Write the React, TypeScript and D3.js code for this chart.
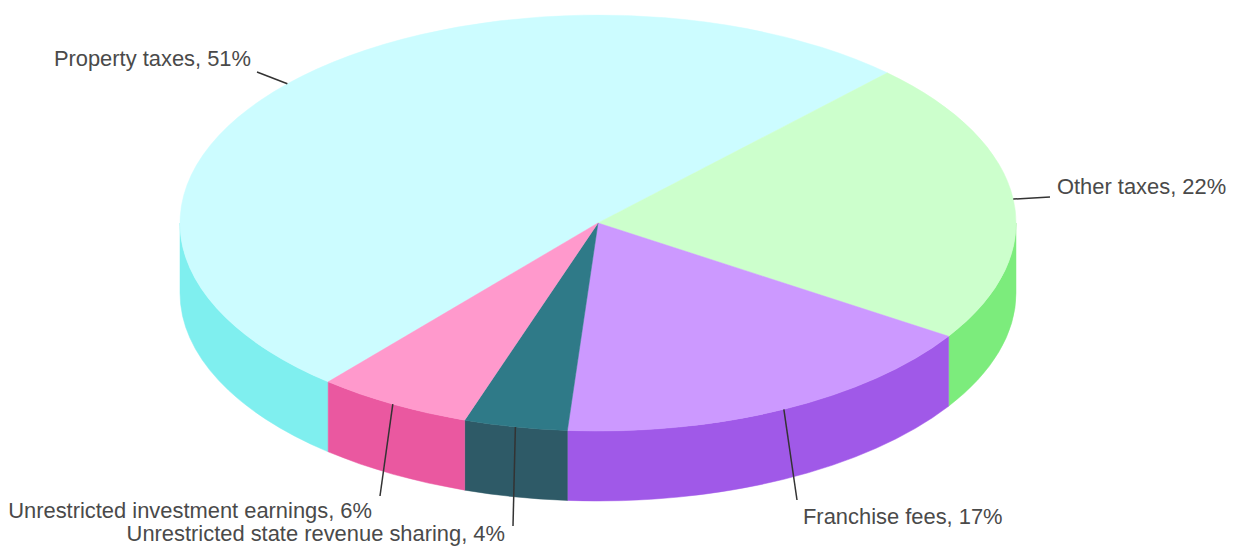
import React from "react";
import * as d3 from "d3";

const categories = [
  "Property taxes",
  "Other taxes",
  "Franchise fees",
  "Unrestricted state revenue sharing",
  "Unrestricted investment earnings",
];
const values = [51, 22, 17, 4, 6];
const topColors = ["#ccfcff", "#ccffcc", "#cc99ff", "#2f7a88", "#ff99cc"];
const sideColors = ["#7fefef", "#7cec7c", "#a059e8", "#2e5a67", "#ea58a0"];

const W = 1240;
const H = 548;
const cx = 598;
const cy = 223;
const rx = 418;
const ry = 208;
const depth = 70;
const startDeg = 220.2;

// label layout: text anchor position (x, baseline y), connector end point
const labelLayout = [
  { tx: 251, ty: 66, anchor: "end", ex: 257, ey: 72 },
  { tx: 1057, ty: 194, anchor: "start", ex: 1050, ey: 197 },
  { tx: 803, ty: 524, anchor: "start", ex: 797, ey: 500 },
  { tx: 505, ty: 541, anchor: "end", ex: 513, ey: 526 },
  { tx: 372, ty: 518, anchor: "end", ex: 380, ey: 496 },
];

function pt(t: number, dy = 0): [number, number] {
  return [cx + rx * Math.cos(t), cy + ry * Math.sin(t) + dy];
}

function topPath(t1: number, t2: number) {
  const [x1, y1] = pt(t1);
  const [x2, y2] = pt(t2);
  const large = t2 - t1 > Math.PI ? 1 : 0;
  return `M${cx},${cy}L${x1},${y1}A${rx},${ry} 0 ${large} 1 ${x2},${y2}Z`;
}

function wallPaths(t1: number, t2: number) {
  const out: string[] = [];
  for (let k = -2; k <= 2; k++) {
    const lo = Math.max(t1, k * 2 * Math.PI);
    const hi = Math.min(t2, k * 2 * Math.PI + Math.PI);
    if (hi > lo) {
      const [ax, ay] = pt(lo);
      const [bx, by] = pt(hi);
      const [bx2, by2] = pt(hi, depth);
      const [ax2, ay2] = pt(lo, depth);
      out.push(
        `M${ax},${ay}A${rx},${ry} 0 0 1 ${bx},${by}L${bx2},${by2}A${rx},${ry} 0 0 0 ${ax2},${ay2}Z`
      );
    }
  }
  return out;
}

export default function App() {
  const total = d3.sum(values);
  const pie = d3
    .pie<number>()
    .sort(null)
    .startAngle((startDeg * Math.PI) / 180)
    .endAngle((startDeg * Math.PI) / 180 + 2 * Math.PI);
  const arcs = pie(values);
  const slices = arcs.map((a, i) => {
    const t1 = a.startAngle - Math.PI / 2;
    const t2 = a.endAngle - Math.PI / 2;
    return { i, t1, t2, mid: (t1 + t2) / 2 };
  });

  return (
    <svg width={W} height={H} style={{ position: "absolute", left: 0, top: 0, background: "#fff" }}>
      <g>
        {slices.map((s) =>
          wallPaths(s.t1, s.t2).map((d, j) => (
            <path key={`w${s.i}-${j}`} d={d} fill={sideColors[s.i]} stroke={sideColors[s.i]} strokeWidth={0.5} />
          ))
        )}
      </g>
      <g>
        {slices.map((s) => (
          <path key={`t${s.i}`} d={topPath(s.t1, s.t2)} fill={topColors[s.i]} stroke={topColors[s.i]} strokeWidth={0.5} />
        ))}
      </g>
      <g>
        {slices.map((s) => {
          const L = labelLayout[s.i];
          const [sx, sy] = pt(s.mid);
          const pct = Math.round((values[s.i] / total) * 100);
          return (
            <g key={`l${s.i}`}>
              <line x1={sx} y1={sy} x2={L.ex} y2={L.ey} stroke="#333" strokeWidth={1.5} />
              <text
                x={L.tx}
                y={L.ty}
                textAnchor={L.anchor as any}
                fontFamily="'Liberation Sans', Arial, sans-serif"
                fontSize={21.9}
                fill="#4a4a4a"
              >
                {`${categories[s.i]}, ${pct}%`}
              </text>
            </g>
          );
        })}
      </g>
    </svg>
  );
}
